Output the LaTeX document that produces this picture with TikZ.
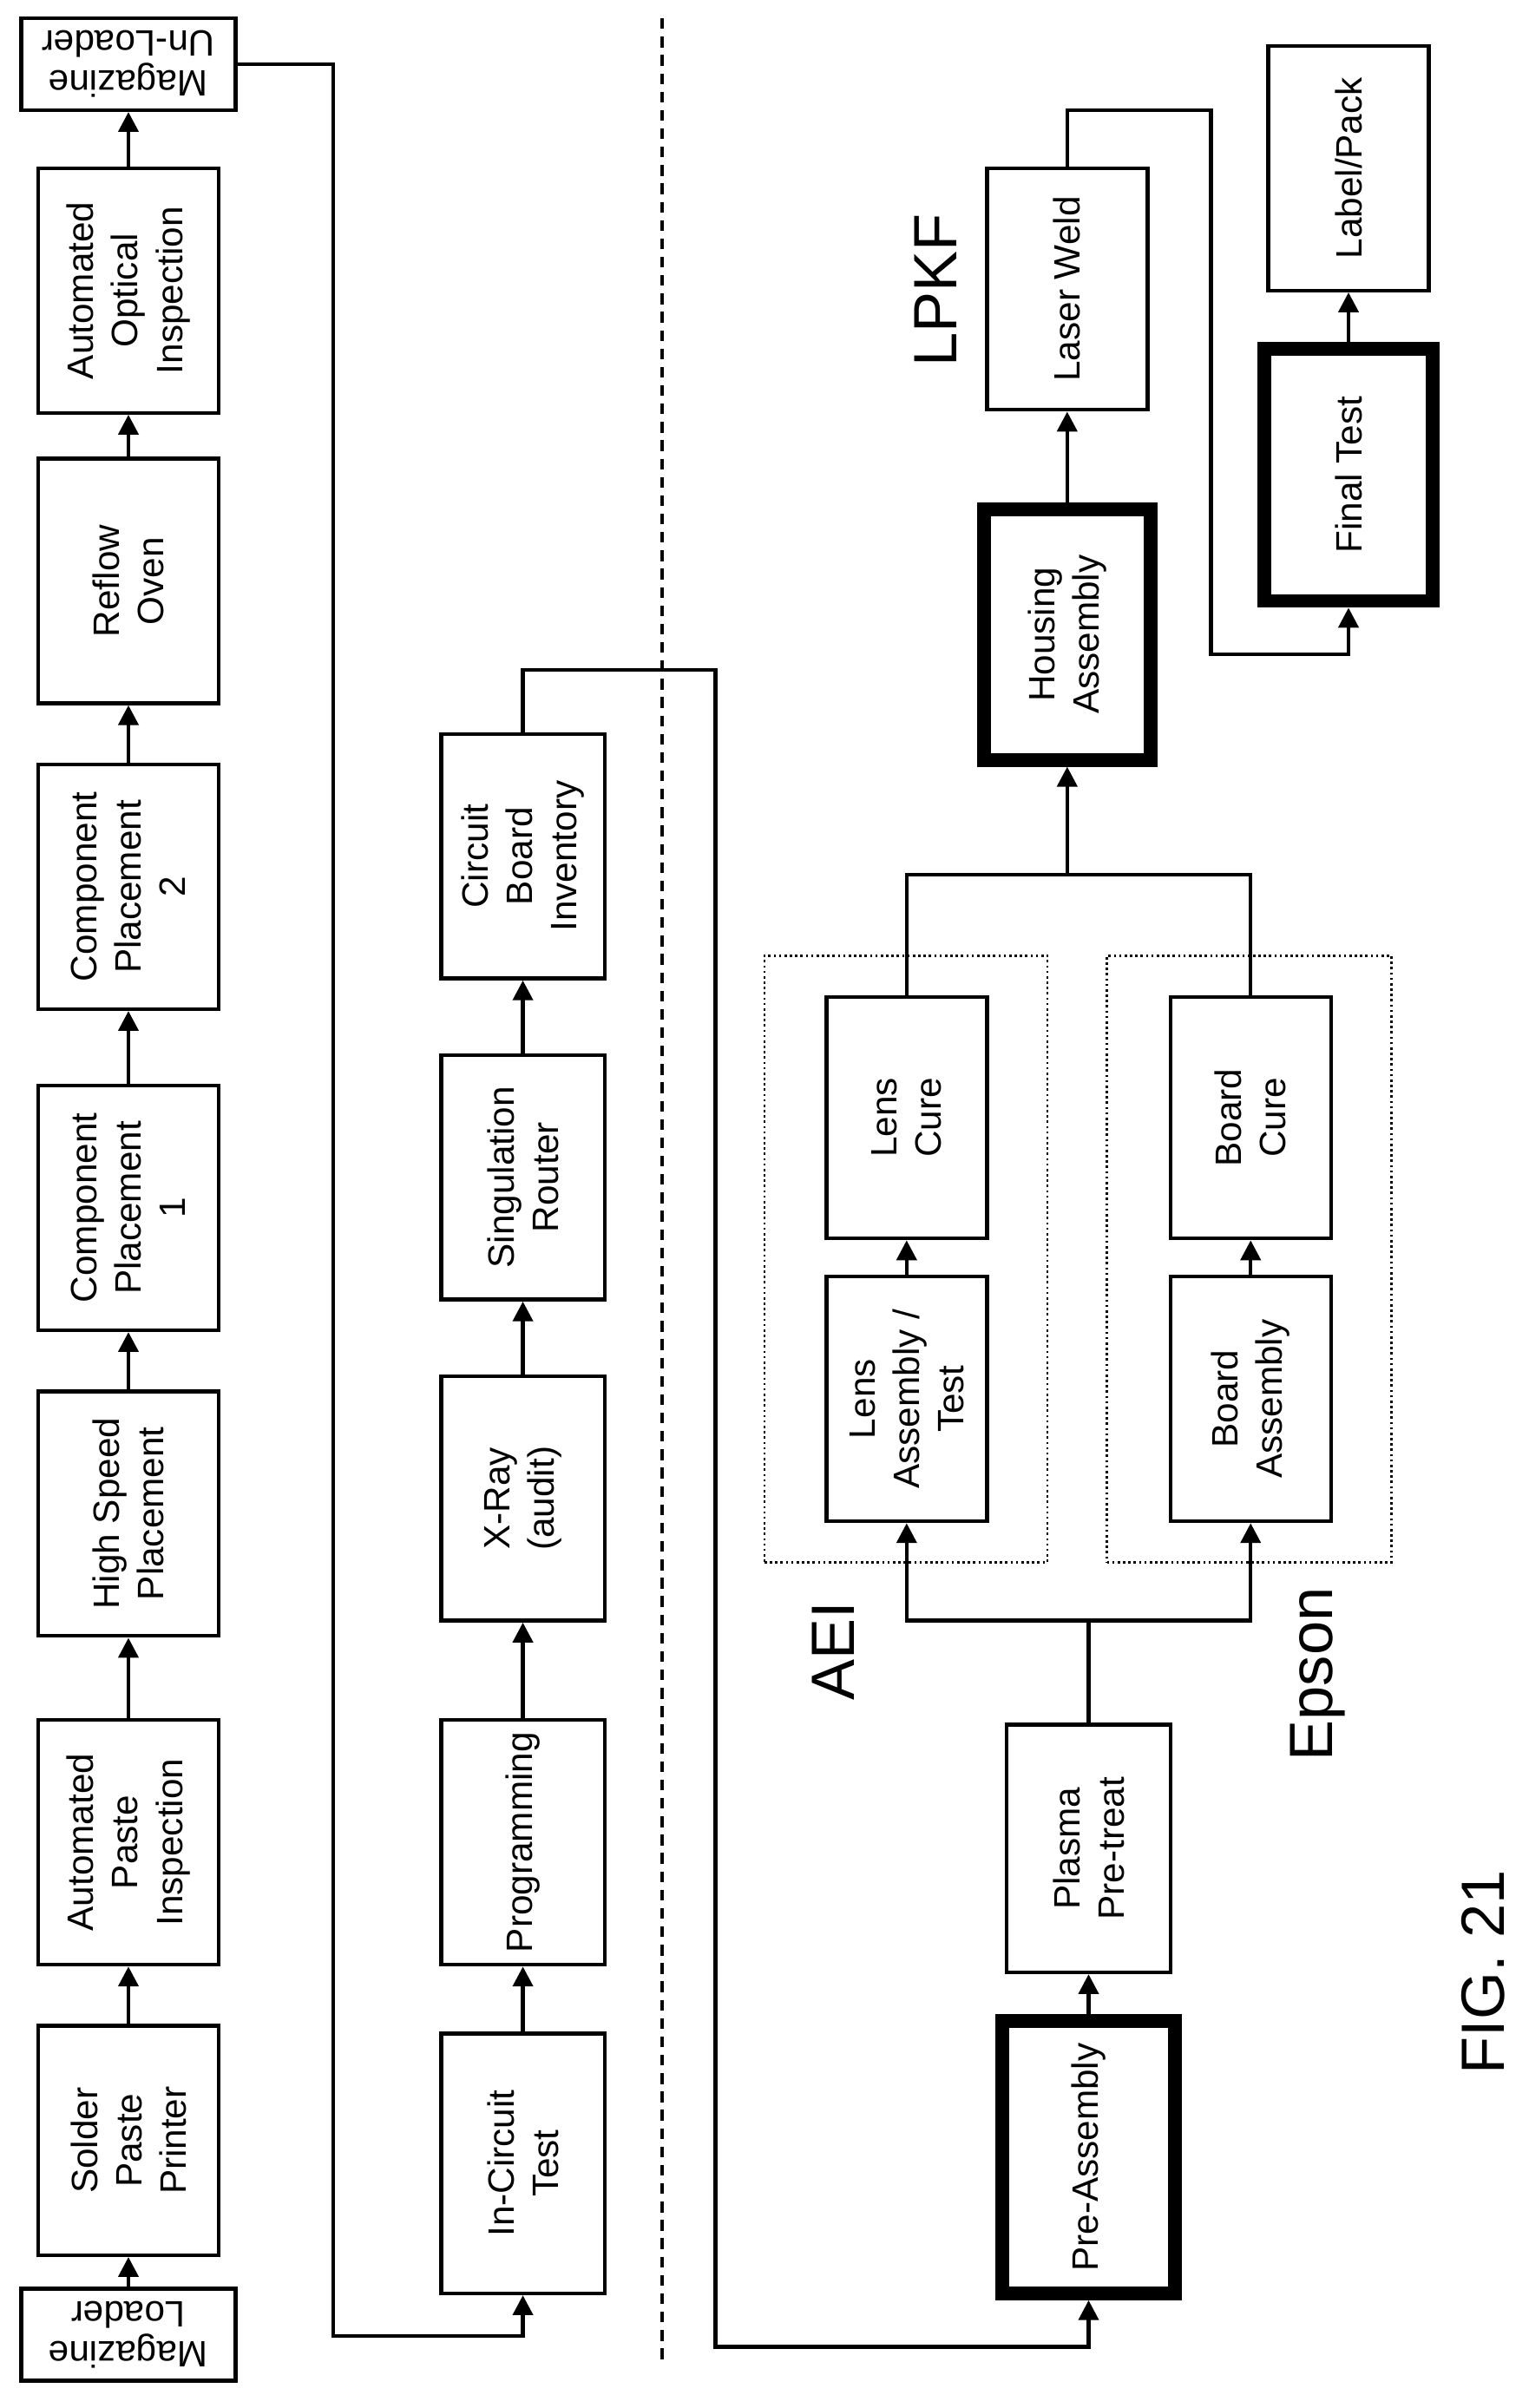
\documentclass[tikz,border=0pt]{standalone}
\usepackage{fontspec}
\setmainfont{Liberation Sans}
\usetikzlibrary{arrows.meta}
\begin{document}
\begin{tikzpicture}[x=1pt,y=-1pt,
  box/.style={draw,line width=2.5pt,rotate=90,align=center,inner sep=0pt,font=\fontsize{24}{29}\selectfont},
  thk/.style={box,line width=9pt},
  flip/.style={draw,line width=2.5pt,rotate=180,align=center,inner sep=0pt,font=\fontsize{24}{26}\selectfont,minimum width=140,minimum height=60},
  dotbox/.style={draw,dotted,line width=1.5pt,inner sep=0pt},
  ar/.style={line width=2.5pt,-{Triangle[length=13pt,width=13pt]}},
  ln/.style={line width=2.5pt},
  big/.style={rotate=90,font=\fontsize{40}{44}\selectfont,inner sep=0pt}]
\useasboundingbox (0,0) rectangle (1000,1575);
% column 1
\node[flip] (ml) at (84,1527) {Magazine\\Loader};
\node[box,minimum width=150,minimum height=118] (sp) at (84,1400) {Solder\\Paste\\Printer};
\node[box,minimum width=160,minimum height=118] (api) at (84,1205) {Automated\\Paste\\Inspection};
\node[box,minimum width=160,minimum height=118] (hsp) at (84,990) {High Speed\\Placement};
\node[box,minimum width=160,minimum height=118] (cp1) at (84,790) {Component\\Placement\\1};
\node[box,minimum width=160,minimum height=118] (cp2) at (84,580) {Component\\Placement\\2};
\node[box,minimum width=160,minimum height=118] (ro) at (84,380) {Reflow\\Oven};
\node[box,minimum width=160,minimum height=118] (aoi) at (84,190) {Automated\\Optical\\Inspection};
\node[flip] (mu) at (84,42) {Magazine\\Un-Loader};
\draw[ar] (ml.south) -- (sp.west);
\draw[ar] (sp.east) -- (api.west);
\draw[ar] (api.east) -- (hsp.west);
\draw[ar] (hsp.east) -- (cp1.west);
\draw[ar] (cp1.east) -- (cp2.west);
\draw[ar] (cp2.east) -- (ro.west);
\draw[ar] (ro.east) -- (aoi.west);
\draw[ar] (aoi.east) -- (mu.north);
% column 2
\node[box,minimum width=170,minimum height=107] (ict) at (342,1415) {In-Circuit\\Test};
\node[box,minimum width=160,minimum height=107] (prog) at (342,1205) {Programming};
\node[box,minimum width=160,minimum height=107] (xr) at (342,980) {X-Ray\\(audit)};
\node[box,minimum width=160,minimum height=107] (sr) at (342,770) {Singulation\\Router};
\node[box,minimum width=160,minimum height=107] (cbi) at (342,560) {Circuit\\Board\\Inventory};
\draw[ar] (mu.west) -| (218,1528) -| (ict.west);
\draw[ar] (ict.east) -- (prog.west);
\draw[ar] (prog.east) -- (xr.west);
\draw[ar] (xr.east) -- (sr.west);
\draw[ar] (sr.east) -- (cbi.west);
\draw[line width=2pt,dash pattern=on 7pt off 5pt] (433,12) -- (433,1545);
% column 3
\node[thk,minimum width=178,minimum height=113] (pre) at (712,1411) {Pre-Assembly};
\node[box,minimum width=162,minimum height=107] (pl) at (712,1209) {Plasma\\Pre-treat};
\draw[ar] (cbi.east) |- (468,438) |- (712,1535) -- (pre.west);
\draw[ar] (pre.east) -- (pl.west);
\node[dotbox,minimum width=185,minimum height=397] (aei) at (592.5,823.5) {};
\node[dotbox,minimum width=186,minimum height=397] (eps) at (817,823.5) {};
\node[big] (laei) at (545,1080) {AEI};
\node[big] (leps) at (862,1095) {Epson};
\node[box,minimum width=160,minimum height=105] (la) at (593,915) {Lens\\Assembly /\\Test};
\node[box,minimum width=158,minimum height=105] (lc) at (593,731) {Lens\\Cure};
\node[box,minimum width=160,minimum height=105] (ba) at (818,915) {Board\\Assembly};
\node[box,minimum width=158,minimum height=105] (bc) at (818,731) {Board\\Cure};
\coordinate (j1) at (712,1060);
\draw[ln] (pl.east) -- (j1);
\draw[ar] (j1) -| (la.west);
\draw[ar] (j1) -| (ba.west);
\draw[ar] (la.east) -- (lc.west);
\draw[ar] (ba.east) -- (bc.west);
\node[thk,minimum width=164,minimum height=109] (ha) at (698,415) {Housing\\Assembly};
\coordinate (j2) at (698,572);
\draw[ln] (lc.east) |- (j2);
\draw[ln] (bc.east) |- (j2);
\draw[ar] (j2) -- (ha.west);
\node[box,minimum width=158,minimum height=105] (lw) at (698,189) {Laser Weld};
\node[big] (lpkf) at (612,190) {LPKF};
\draw[ar] (ha.east) -- (lw.west);
\node[thk,minimum width=165,minimum height=110] (ft) at (882,310.5) {Final Test};
\node[box,minimum width=160,minimum height=105] (lp) at (882,110) {Label/Pack};
\draw[ar] (lw.east) |- (792,72) |- (882,428) -- (ft.west);
\draw[ar] (ft.east) -- (lp.west);
\node[big] (fig) at (970,1290) {FIG. 21};
\end{tikzpicture}
\end{document}
